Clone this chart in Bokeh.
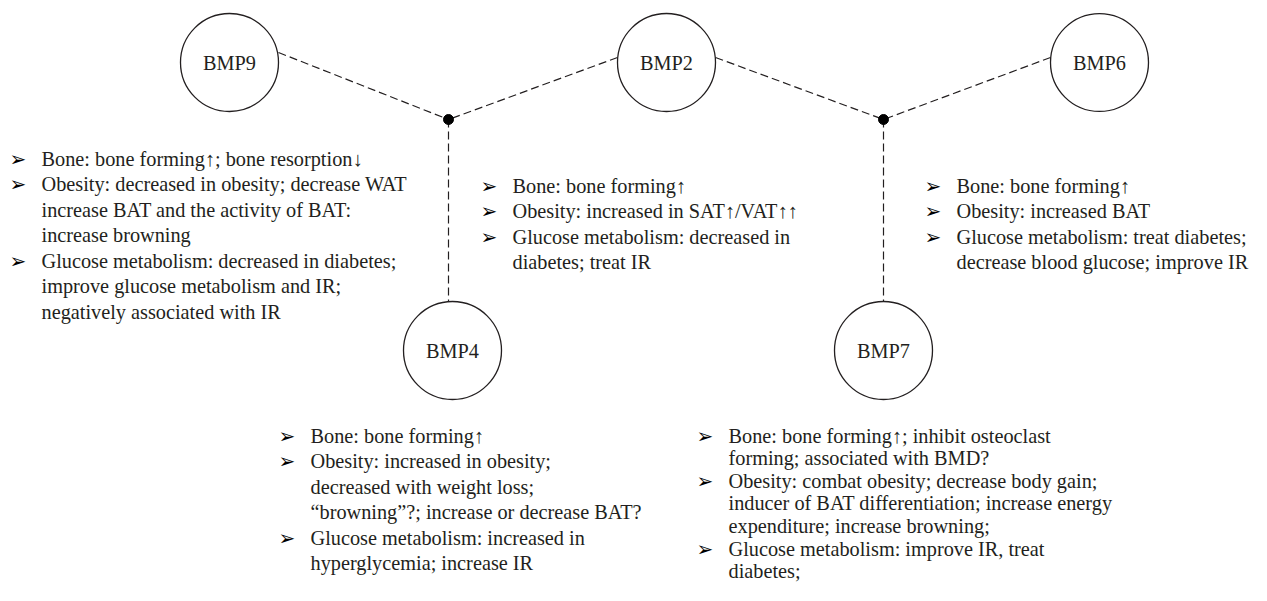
from bokeh.plotting import figure
from bokeh.models import Range1d
from bokeh.core.properties import value
from bokeh.embed import file_html
from bokeh.resources import INLINE

# ---- diagram data (reference pixel coordinates) ----
node_names = ["BMP9", "BMP2", "BMP6", "BMP4", "BMP7"]
node_x = [229, 666, 1099, 452, 883]
node_y = [62, 62, 62, 350, 350]
node_r = [49, 49, 49, 49, 49]

hub_x = [448, 883]
hub_y = [119, 119]

edge_x0 = [278, 617, 715, 1050, 448, 883]
edge_y0 = [52, 57, 57, 57, 119, 119]
edge_x1 = [448, 448, 883, 883, 448, 883]
edge_y1 = [119, 119, 119, 119, 301, 301]

bmp9_items = [["Bone: bone forming\u2191; bone resorption\u2193"],
              ["Obesity: decreased in obesity; decrease WAT",
               "increase BAT and the activity of BAT:",
               "increase browning"],
              ["Glucose metabolism: decreased in diabetes;",
               "improve glucose metabolism and IR;",
               "negatively associated with IR"]]
bmp2_items = [["Bone: bone forming\u2191"],
              ["Obesity: increased in SAT\u2191/VAT\u2191\u2191"],
              ["Glucose metabolism: decreased in",
               "diabetes; treat IR"]]
bmp6_items = [["Bone: bone forming\u2191"],
              ["Obesity: increased BAT"],
              ["Glucose metabolism: treat diabetes;",
               "decrease blood glucose; improve IR"]]
bmp4_items = [["Bone: bone forming\u2191"],
              ["Obesity: increased in obesity;",
               "decreased with weight loss;",
               "\u201cbrowning\u201d?; increase or decrease BAT?"],
              ["Glucose metabolism: increased in",
               "hyperglycemia; increase IR"]]
bmp7_items = [["Bone: bone forming\u2191; inhibit osteoclast",
               "forming; associated with BMD?"],
              ["Obesity: combat obesity; decrease body gain;",
               "inducer of BAT differentiation; increase energy",
               "expenditure; increase browning;"],
              ["Glucose metabolism: improve IR, treat",
               "diabetes;"]]

blocks = [bmp9_items, bmp2_items, bmp6_items, bmp4_items, bmp7_items]
block_text_x = [41, 512, 956, 310, 728]
block_first_y = [158, 185, 185, 435, 435]
block_step = [25.5, 25.5, 25.5, 25.5, 22.6]
bullet_offset = 32

# ---- build text sources ----
tx, ty, tt = [], [], []
bx, by = [], []
for items, x0, y0, step in zip(blocks, block_text_x, block_first_y, block_step):
    y = y0
    for item in items:
        bx.append(x0 - bullet_offset)
        by.append(y)
        for line in item:
            tx.append(x0)
            ty.append(y)
            tt.append(line)
            y += step

INK = "#231f20"
FONT = value("'Liberation Serif', 'DejaVu Serif', serif")
FS = "20.3px"

W, H = 1251, 585
p = figure(width=W, height=H, output_backend="svg", toolbar_location=None,
           x_range=Range1d(0, W), y_range=Range1d(H, 0),
           x_axis_location=None, y_axis_location=None, min_border=0,
           tools="")
p.grid.visible = False
p.outline_line_color = None
p.background_fill_color = "white"

p.segment(x0=edge_x0, y0=edge_y0, x1=edge_x1, y1=edge_y1,
          line_color=INK, line_width=1.2, line_dash="8 4")

p.circle(x=node_x, y=node_y, radius=node_r, fill_color="white",
         line_color=INK, line_width=1.3)
p.scatter(x=hub_x, y=hub_y, size=10, marker="circle", fill_color="black",
          line_color="black")

p.text(x=node_x, y=node_y, text=node_names, text_font=FONT,
       text_font_size=FS, text_align="center", text_baseline="middle",
       text_color=INK)

p.text(x=tx, y=ty, text=tt, text_font=FONT, text_font_size=FS,
       text_align="left", text_baseline="middle", text_color=INK)
p.text(x=bx, y=by, text=["\u27a2"] * len(bx), text_font=value("DejaVu Sans"),
       text_font_size="20px", text_align="left", text_baseline="middle",
       text_color="black")

open("out.html", "w").write(file_html(p, INLINE))
